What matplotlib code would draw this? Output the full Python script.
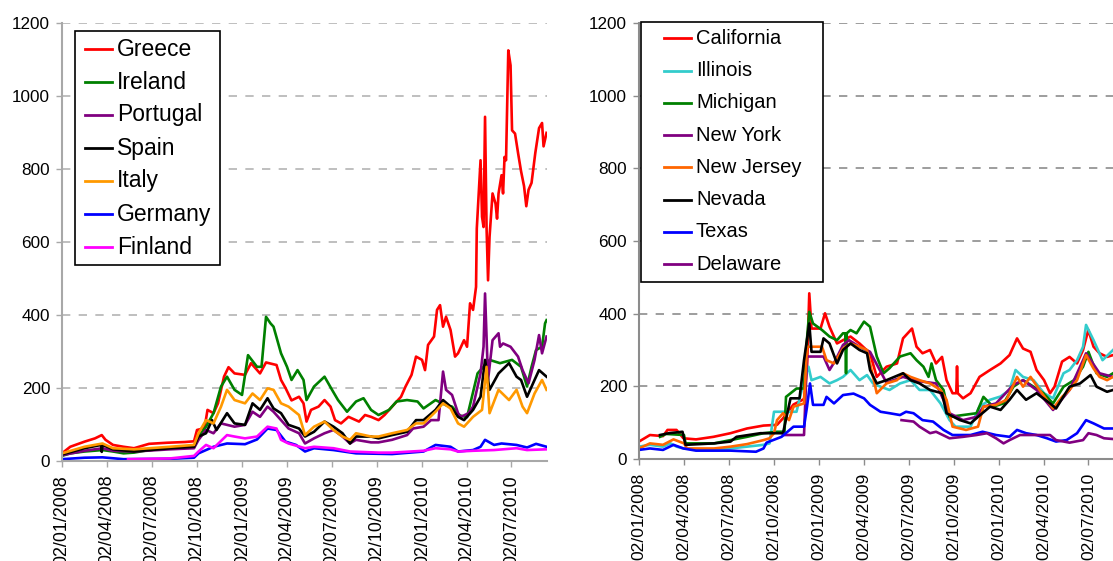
import numpy as np
import pandas as pd
import matplotlib
matplotlib.use('Agg')
import matplotlib.pyplot as plt
import matplotlib.dates as mdates
from matplotlib.lines import Line2D
from matplotlib.patches import Rectangle

plt.rcParams['font.family'] = ['Liberation Sans', 'DejaVu Sans']

# time is given in months after 02/01/2008
START = pd.Timestamp('2008-01-02')

# ---- left panel: euro area countries ----
greece_t = [0, .55, 1.5, 2.2, 2.65, 2.9, 3.4, 4.1, 4.8, 5.8,
            7.0, 8.2, 8.8, 9.0, 9.5, 9.7, 10.1, 10.4, 10.8, 11.1,
            11.5, 12.2, 12.6, 13.2, 13.6, 14.3, 14.6, 14.9, 15.3, 15.8,
            16.1, 16.3, 16.6, 17.1, 17.5, 17.9, 18.2, 18.6, 19.1, 19.8,
            20.2, 20.6, 21.1, 21.5, 22.2, 22.6, 22.9, 23.3, 23.6, 24.0,
            24.2, 24.4, 24.8, 25.0, 25.2, 25.4, 25.6, 25.9, 26.2, 26.4,
            26.8, 27.0, 27.2, 27.4, 27.6, 27.65, 27.9, 28.0, 28.1, 28.2,
            28.3, 28.4, 28.5, 28.7, 28.9, 29.0, 29.1, 29.3, 29.4, 29.5,
            29.6, 29.75, 29.9, 30.0, 30.2, 30.4, 30.6, 30.8, 30.95, 31.1,
            31.3, 31.55, 31.8, 32.0, 32.1, 32.3]
greece_v = [21, 39, 53, 62, 71, 58, 44, 39, 35, 47,
            50, 52, 54, 85, 90, 140, 131, 158, 231, 257,
            240, 236, 268, 240, 270, 263, 222, 200, 166, 176,
            158, 108, 140, 149, 167, 149, 112, 103, 121, 108,
            126, 121, 112, 126, 158, 176, 204, 236, 286, 277,
            249, 318, 341, 414, 427, 368, 395, 359, 286, 295,
            331, 313, 432, 414, 477, 637, 824, 669, 641, 943,
            641, 495, 614, 733, 705, 664, 733, 783, 733, 833,
            824, 1125, 1084, 906, 897, 844, 794, 753, 698, 743,
            762, 844, 912, 926, 862, 899]

ireland_t = [0, .55, 1.5, 2.7, 3.4, 4.1, 4.8, 5.8, 7.2, 8.8,
             9.1, 9.6, 10.1, 10.6, 11.0, 11.5, 12.0, 12.4, 13.0, 13.3,
             13.6, 13.9, 14.1, 14.6, 15.0, 15.3, 15.7, 16.1, 16.3, 16.8,
             17.5, 18.0, 18.4, 19.0, 19.6, 20.1, 20.6, 21.1, 21.8, 22.3,
             23.0, 23.7, 24.1, 24.9, 25.6, 26.0, 26.5, 27.0, 27.7, 28.5,
             29.2, 30.0, 30.6, 31.0, 31.3, 31.6, 32.0, 32.2, 32.3]
ireland_v = [14, 21, 26, 30, 26, 21, 23, 30, 35, 37,
             67, 94, 131, 204, 231, 195, 181, 290, 258, 258,
             395, 377, 368, 295, 258, 222, 249, 222, 167, 204,
             231, 195, 167, 135, 163, 172, 140, 126, 140, 163,
             167, 163, 144, 167, 153, 149, 125, 120, 240, 277,
             268, 277, 258, 204, 258, 304, 313, 377, 386]

portugal_t = [0, 1.5, 2.7, 3.4, 4.8, 7.2, 8.8, 9.1, 9.6, 10.1,
              10.6, 11.0, 11.5, 12.2, 12.7, 13.2, 13.7, 14.1, 14.6, 15.1,
              15.8, 16.2, 16.8, 17.5, 18.1, 18.7, 19.2, 19.6, 20.6, 21.1,
              22.0, 23.0, 23.4, 24.1, 24.6, 25.1, 25.4, 25.6, 26.0, 26.4,
              26.6, 27.1, 27.4, 27.9, 28.1, 28.2, 28.4, 28.7, 29.1, 29.2,
              29.4, 29.9, 30.4, 30.7, 31.1, 31.5, 31.8, 32.0, 32.3]
portugal_v = [16, 28, 35, 28, 26, 32, 35, 58, 85, 76,
              103, 99, 94, 99, 135, 121, 149, 135, 112, 89,
              76, 48, 62, 76, 85, 67, 48, 58, 51, 51,
              58, 71, 89, 94, 112, 112, 245, 195, 181, 131,
              121, 131, 149, 240, 313, 459, 222, 331, 350, 313,
              322, 313, 286, 249, 213, 277, 345, 295, 341]

spain_t = [0, 1.5, 2.6, 2.65, 2.7, 3.4, 4.8, 7.2, 8.8, 9.1,
           9.6, 10.0, 10.3, 11.0, 11.5, 12.2, 12.7, 13.2, 13.7, 14.1,
           14.6, 15.1, 15.8, 16.2, 16.8, 17.5, 18.1, 18.7, 19.2, 19.6,
           20.6, 21.1, 22.0, 23.0, 23.6, 24.1, 24.9, 25.4, 25.9, 26.4,
           26.8, 27.4, 27.9, 28.2, 28.5, 29.1, 29.8, 30.3, 30.6, 31.0,
           31.5, 31.8, 32.3]
spain_v = [18, 35, 44, 25, 44, 32, 26, 35, 39, 67,
           76, 112, 85, 131, 103, 99, 158, 140, 172, 144,
           131, 99, 89, 67, 80, 108, 94, 76, 48, 67,
           67, 62, 71, 80, 112, 112, 140, 167, 149, 121,
           112, 140, 176, 277, 195, 240, 268, 231, 222, 176,
           222, 249, 231]

italy_t = [0, 1.5, 2.7, 3.4, 4.8, 7.2, 8.8, 9.1, 9.6, 10.1,
           10.6, 11.0, 11.5, 12.2, 12.7, 13.2, 13.7, 14.1, 14.6, 15.1,
           15.8, 16.2, 16.8, 17.5, 18.1, 18.7, 19.2, 19.6, 20.6, 21.1,
           22.0, 23.0, 23.6, 24.1, 24.9, 25.4, 25.9, 26.4, 26.8, 27.4,
           28.0, 28.3, 28.5, 29.1, 29.8, 30.3, 30.7, 31.0, 31.5, 32.0,
           32.3]
italy_v = [21, 39, 48, 35, 32, 39, 44, 76, 112, 103,
           149, 195, 167, 158, 185, 167, 199, 195, 158, 149,
           126, 71, 94, 108, 85, 67, 58, 76, 67, 67,
           76, 85, 103, 103, 135, 158, 144, 103, 94, 121,
           140, 258, 131, 195, 167, 195, 149, 131, 185, 222,
           195]

germany_t = [0, 1.5, 2.7, 4.1, 7.2, 8.8, 9.1, 10.1, 11.0, 12.2,
             13.0, 13.7, 14.3, 14.9, 15.6, 16.2, 16.8, 18.1, 19.6, 22.0,
             24.1, 24.9, 25.9, 26.4, 27.4, 27.9, 28.2, 28.8, 29.3, 30.3,
             31.0, 31.6, 32.3]
germany_v = [5, 9, 10, 5, 6, 9, 21, 39, 48, 46,
             59, 89, 85, 53, 44, 26, 35, 30, 21, 19,
             26, 44, 39, 26, 30, 39, 58, 44, 48, 44,
             37, 47, 39]

finland_t = [4.4, 7.2, 8.8, 9.1, 9.6, 10.1, 11.0, 11.5, 12.2, 13.0,
             13.7, 14.3, 14.6, 15.1, 16.2, 16.8, 18.1, 19.2, 21.1, 22.0,
             24.1, 24.9, 25.9, 26.4, 27.4, 28.8, 30.3, 31.0, 32.3]
finland_v = [5, 7, 14, 26, 44, 35, 71, 67, 62, 67,
             94, 89, 58, 48, 35, 39, 35, 26, 23, 23,
             28, 35, 32, 26, 28, 30, 35, 30, 32]

# ---- right panel: US states ----
california_t = [0, .73, 1.6, 1.9, 2.5, 2.96, 3.8, 4.96, 6.1, 7.2,
                8.3, 9.2, 9.6, 10.3, 11.0, 11.2, 11.35, 11.5, 12.1, 12.4,
                12.7, 13.2, 13.6, 14.1, 14.7, 15.4, 15.85, 16.5, 17.2, 17.6,
                18.2, 18.5, 18.9, 19.4, 19.8, 20.2, 20.5, 20.9, 21.15, 21.2,
                21.25, 21.6, 22.1, 22.7, 23.4, 24.1, 24.7, 25.2, 25.6, 26.1,
                26.5, 27.0, 27.4, 27.7, 28.2, 28.7, 29.2, 29.6, 29.95, 30.3,
                30.7, 31.2, 31.6]
california_v = [48, 66, 63, 80, 80, 57, 54, 61, 71, 84,
                92, 94, 112, 150, 165, 250, 456, 359, 359, 401,
                364, 318, 327, 337, 318, 291, 226, 254, 263, 332,
                359, 309, 291, 300, 263, 281, 217, 181, 181, 255,
                181, 167, 181, 226, 245, 263, 286, 332, 304, 295,
                245, 217, 181, 199, 268, 281, 263, 300, 355, 309,
                291, 281, 286]

illinois_t = [0, .73, 1.6, 2.1, 2.5, 2.96, 4.96, 6.1, 7.2, 8.3,
              8.7, 9.0, 9.8, 10.5, 11.0, 11.3, 11.5, 12.1, 12.7, 13.2,
              13.6, 14.1, 14.7, 15.2, 15.6, 16.1, 16.7, 17.4, 18.1, 18.7,
              19.4, 20.1, 20.7, 21.1, 22.1, 22.7, 23.4, 24.1, 24.7, 25.1,
              25.6, 26.3, 27.0, 27.6, 28.3, 28.7, 29.2, 29.6, 29.8, 30.3,
              30.9, 31.6]
illinois_v = [34, 39, 34, 43, 34, 29, 25, 29, 34, 39,
              43, 130, 130, 130, 217, 254, 217, 226, 208, 217,
              226, 245, 217, 231, 208, 199, 190, 208, 217, 190,
              190, 153, 107, 89, 89, 144, 163, 172, 190, 245,
              226, 217, 181, 167, 236, 245, 272, 309, 369, 327,
              272, 300]

michigan_t = [1.4, 1.8, 3.0, 3.1, 5.0, 6.1, 7.2, 8.3, 9.2, 9.7,
              9.8, 10.5, 11.0, 11.1, 11.35, 11.6, 12.2, 12.7, 13.2, 13.6,
              13.75, 13.8, 13.85, 14.1, 14.5, 15.0, 15.4, 15.85, 16.3, 16.7,
              17.4, 18.1, 18.5, 18.96, 19.3, 19.5, 19.8, 20.3, 20.7, 21.6,
              22.5, 22.96, 23.6, 24.3, 24.96, 25.6, 26.3, 26.96, 27.6, 28.3,
              29.0, 29.6, 29.96, 30.5, 31.2, 31.6]
michigan_v = [61, 69, 66, 43, 43, 52, 61, 71, 75, 75,
              171, 194, 194, 282, 405, 373, 355, 337, 327, 346,
              346, 236, 346, 355, 346, 378, 364, 282, 236, 250,
              282, 291, 272, 254, 226, 263, 217, 190, 116, 121,
              126, 171, 144, 153, 199, 217, 199, 181, 153, 199,
              217, 254, 295, 236, 226, 236]

newyork_t = [9.6, 11.0, 11.2, 11.5, 12.3, 12.7, 13.1, 13.6, 14.0, 14.7,
             15.4, 16.5, 17.6, 18.5, 19.8, 20.7, 21.6, 22.5, 22.96, 23.8,
             24.96, 25.6, 26.5, 27.6, 28.7, 29.6, 29.8, 30.7, 31.6]
newyork_v = [66, 66, 282, 282, 282, 245, 272, 314, 327, 309,
             295, 210, 226, 215, 208, 126, 107, 116, 144, 153,
             204, 217, 190, 135, 190, 272, 291, 236, 226]

newjersey_t = [0, .73, 1.6, 2.3, 3.0, 3.2, 5.0, 6.1, 7.2, 8.3,
               8.7, 9.0, 9.2, 9.6, 10.0, 10.3, 11.0, 11.2, 11.5, 12.2,
               12.5, 13.0, 13.6, 14.1, 14.7, 15.2, 15.5, 15.85, 16.5, 17.2,
               17.6, 18.1, 18.7, 19.4, 20.1, 20.5, 20.9, 21.8, 22.6, 22.96,
               23.8, 24.5, 25.2, 25.6, 26.1, 26.7, 27.6, 28.2, 28.7, 29.2,
               29.8, 30.3, 30.7, 31.2, 31.6]
newjersey_v = [29, 43, 39, 54, 43, 29, 29, 34, 41, 52,
               57, 71, 107, 126, 107, 144, 153, 309, 309, 309,
               272, 263, 304, 318, 309, 300, 245, 181, 208, 217,
               236, 226, 217, 208, 190, 163, 89, 80, 89, 144,
               149, 163, 226, 199, 226, 190, 139, 171, 190, 217,
               286, 249, 226, 217, 226]

nevada_t = [1.4, 2.0, 2.9, 3.1, 5.0, 6.1, 6.5, 8.1, 9.6, 10.1,
            10.7, 11.0, 11.35, 11.5, 12.1, 12.3, 12.7, 13.2, 13.6, 14.1,
            14.7, 15.2, 15.4, 15.85, 16.5, 17.6, 18.1, 18.7, 19.4, 20.2,
            20.5, 21.4, 22.1, 22.6, 23.4, 24.1, 24.7, 25.2, 25.8, 26.5,
            27.4, 27.8, 28.7, 29.4, 30.1, 30.5, 31.2, 31.6]
nevada_v = [66, 71, 75, 39, 43, 48, 61, 71, 71, 167,
            167, 272, 373, 295, 295, 332, 318, 263, 300, 318,
            300, 291, 245, 208, 217, 236, 217, 208, 190, 181,
            126, 107, 98, 116, 144, 135, 163, 190, 163, 181,
            153, 139, 199, 208, 231, 199, 185, 190]

texas_t = [0, .73, 1.6, 2.3, 2.96, 3.8, 6.1, 7.8, 8.3, 8.5,
           9.5, 10.3, 11.0, 11.2, 11.4, 11.6, 12.3, 12.5, 13.0, 13.6,
           14.3, 15.0, 15.4, 16.1, 16.7, 17.4, 17.8, 18.3, 18.9, 19.6,
           20.3, 20.9, 22.1, 22.9, 23.8, 24.7, 25.2, 25.8, 26.5, 27.2,
           27.8, 28.5, 29.2, 29.8, 30.3, 31.0, 31.6]
texas_v = [25, 29, 25, 39, 29, 23, 23, 20, 29, 45,
           61, 89, 89, 144, 208, 149, 149, 171, 153, 176,
           180, 167, 149, 130, 126, 121, 130, 126, 107, 103,
           80, 66, 66, 75, 66, 61, 80, 71, 66, 57,
           48, 52, 71, 107, 98, 84, 84]

delaware_t = [17.5, 18.3, 18.7, 19.4, 19.8, 20.7, 21.6, 22.5, 23.2, 23.8,
              24.3, 24.7, 25.4, 26.5, 27.4, 27.8, 28.7, 29.6, 29.96, 30.5,
              31.0, 31.6]
delaware_v = [107, 103, 89, 71, 75, 57, 61, 66, 71, 57,
              43, 52, 66, 66, 66, 52, 45, 52, 71, 66,
              57, 55]

left_series = [('Greece', greece_t, greece_v, '#ff0000'),
               ('Ireland', ireland_t, ireland_v, '#008000'),
               ('Portugal', portugal_t, portugal_v, '#800080'),
               ('Spain', spain_t, spain_v, '#000000'),
               ('Italy', italy_t, italy_v, '#ff9900'),
               ('Germany', germany_t, germany_v, '#0000ff'),
               ('Finland', finland_t, finland_v, '#ff00ff')]
right_series = [('California', california_t, california_v, '#ff0000'),
                ('Illinois', illinois_t, illinois_v, '#33cccc'),
                ('Michigan', michigan_t, michigan_v, '#008000'),
                ('New York', newyork_t, newyork_v, '#800080'),
                ('New Jersey', newjersey_t, newjersey_v, '#ff6600'),
                ('Nevada', nevada_t, nevada_v, '#000000'),
                ('Texas', texas_t, texas_v, '#0000ff'),
                ('Delaware', delaware_t, delaware_v, '#800080')]


def to_dates(months):
    return START + pd.to_timedelta(np.asarray(months, dtype=float) * 30.44, unit='D')


W, H = 1113, 561
fig = plt.figure(figsize=(W / 100, H / 100), dpi=100)


def px_box(x0, y0, x1, y1):
    # pixel box (top-left origin) -> figure fraction rect
    return [x0 / W, 1 - y1 / H, (x1 - x0) / W, (y1 - y0) / H]


def style_axes(ax, grid_color, spine_color, xsize):
    ax.set_ylim(0, 1200)
    ax.set_yticks(range(0, 1201, 200))
    ax.set_xlim(to_dates([0, 32.33]))
    ax.xaxis.set_major_locator(mdates.MonthLocator(bymonth=[1, 4, 7, 10], bymonthday=2))
    ax.xaxis.set_major_formatter(mdates.DateFormatter('%d/%m/%Y'))
    ax.spines['top'].set_visible(False)
    ax.spines['right'].set_visible(False)
    for s in ['left', 'bottom']:
        ax.spines[s].set_color(spine_color)
        ax.spines[s].set_linewidth(1.5)
    ax.tick_params(axis='both', direction='out', length=4, width=1,
                   color=spine_color, labelcolor='black')
    ax.tick_params(axis='y', pad=4.5, labelsize=12.3)
    ax.tick_params(axis='x', labelrotation=90, pad=6, labelsize=xsize)
    ax.grid(axis='y', color=grid_color, linestyle=(0, (5, 5)), linewidth=1.2)
    ax.set_axisbelow(True)


def draw_legend(series, box, first_row, pitch, handle, text_x, size):
    x0, y0, x1, y1 = box
    fig.add_artist(Rectangle((x0 / W, 1 - y1 / H), (x1 - x0) / W, (y1 - y0) / H,
                             transform=fig.transFigure, facecolor='white',
                             edgecolor='black', linewidth=1.2, zorder=5))
    for i, (name, t, v, col) in enumerate(series):
        y = 1 - (first_row + i * pitch) / H
        fig.add_artist(Line2D([handle[0] / W, handle[1] / W], [y, y],
                              transform=fig.transFigure, color=col, lw=2, zorder=6))
        fig.text(text_x / W, y, name, fontsize=size, va='center', ha='left', zorder=6)


ax1 = fig.add_axes(px_box(62, 23, 547, 461))
ax2 = fig.add_axes(px_box(639, 23, 1124, 459))
style_axes(ax1, '#b4b4b4', '#a8a8a8', 12.9)
style_axes(ax2, '#8c8c8c', '#8c8c8c', 12.6)

for name, t, v, col in left_series:
    ax1.plot(to_dates(t), v, color=col, lw=1.9, label=name)
for name, t, v, col in right_series:
    ax2.plot(to_dates(t), v, color=col, lw=1.9, label=name)

draw_legend(left_series, (75, 31, 220, 265), 49, 33, (85, 112), 117, 16.5)
draw_legend(right_series, (641, 22, 823, 282), 38.3, 32.25, (664, 691), 696, 14.5)

fig.savefig('out.png', dpi=100)
